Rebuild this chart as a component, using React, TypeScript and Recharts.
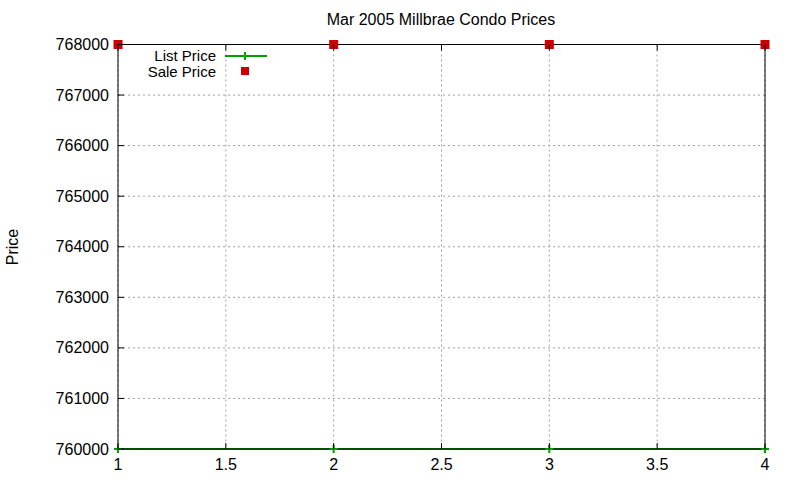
import React from 'react';
import { ComposedChart, Line, Scatter, XAxis, YAxis, CartesianGrid } from 'recharts';

const xValues = [1, 2, 3, 4];
const listPrices = [760000, 760000, 760000, 760000];
const salePrices = [768000, 768000, 768000, 768000];
const xTicks = [1, 1.5, 2, 2.5, 3, 3.5, 4];
const yTicks = [760000, 761000, 762000, 763000, 764000, 765000, 766000, 767000, 768000];
const title = 'Mar 2005 Millbrae Condo Prices';
const yLabel = 'Price';
const listName = 'List Price';
const saleName = 'Sale Price';

const data = xValues.map((x, i) => ({ x, list: listPrices[i], sale: salePrices[i] }));

const FONT = '"Liberation Sans", Arial, sans-serif';
const GREEN = '#00a000';
const RED = '#cc0000';
const FS = 16;
const LFS = 15;

const BottomTick = (p: any) => (
  <g>
    <line x1={p.x} x2={p.x} y1={p.y} y2={p.y - 6} stroke="#000" />
    <text x={p.x} y={p.y + 15} textAnchor="middle" dominantBaseline="central" fontSize={FS} fontFamily={FONT} fill="#000">
      {p.payload.value}
    </text>
  </g>
);
const TopTick = (p: any) => (
  <line x1={p.x} x2={p.x} y1={p.y} y2={p.y + 6} stroke="#000" />
);
const LeftTick = (p: any) => (
  <g>
    <line x1={p.x} x2={p.x + 6} y1={p.y} y2={p.y} stroke="#000" />
    <text x={p.x - 9} y={p.y} textAnchor="end" dominantBaseline="central" fontSize={FS} fontFamily={FONT} fill="#000">
      {p.payload.value}
    </text>
  </g>
);
const RightTick = (p: any) => (
  <line x1={p.x} x2={p.x - 6} y1={p.y} y2={p.y} stroke="#000" />
);

const PlusDot = (p: any) => {
  const { cx, cy } = p;
  if (cx == null || cy == null) return <g />;
  return (
    <g>
      <line x1={cx - 4} x2={cx + 4} y1={cy} y2={cy} stroke={GREEN} strokeWidth={2} />
      <line x1={cx} x2={cx} y1={cy - 4} y2={cy + 4} stroke={GREEN} strokeWidth={2} />
    </g>
  );
};

const SquareShape = (p: any) => {
  const { cx, cy } = p;
  return <rect x={cx - 4.5} y={cy - 4.5} width={9} height={9} fill={RED} />;
};

export default function App() {
  return (
    <div style={{ position: 'absolute', left: 0, top: 0, width: 800, height: 480, background: '#fff' }}>
      <div style={{ position: 'absolute', left: 0, top: 10, width: 882, textAlign: 'center', fontFamily: FONT, fontSize: FS, lineHeight: '20px', color: '#000' }}>
        {title}
      </div>
      <ComposedChart width={800} height={480} data={data} margin={{ top: 0, right: 0, bottom: 0, left: 0 }}>
        <CartesianGrid xAxisId="b" yAxisId="l" stroke="#a0a0a0" strokeDasharray="2 3" />
        <XAxis xAxisId="b" dataKey="x" type="number" domain={[1, 4]} ticks={xTicks} orientation="bottom" height={31}
          tickSize={0} tickMargin={0} tickLine={false} tick={<BottomTick />} axisLine={{ stroke: '#000' }} interval={0} />
        <XAxis xAxisId="t" dataKey="x" type="number" domain={[1, 4]} ticks={xTicks} orientation="top" height={44.5}
          tickSize={0} tickMargin={0} tickLine={false} tick={<TopTick />} axisLine={{ stroke: '#000' }} interval={0} />
        <YAxis yAxisId="l" type="number" domain={[760000, 768000]} ticks={yTicks} width={118} orientation="left"
          tickSize={0} tickMargin={0} tickLine={false} tick={<LeftTick />} axisLine={{ stroke: '#000' }} interval={0}
          label={{ content: () => (
            <text x={12} y={247} transform="rotate(-90 12 247)" textAnchor="middle" dominantBaseline="central" fontSize={FS} fontFamily={FONT} fill="#000">{yLabel}</text>
          ) }} />
        <YAxis yAxisId="r" type="number" domain={[760000, 768000]} ticks={yTicks} width={35} orientation="right"
          tickSize={0} tickMargin={0} tickLine={false} tick={<RightTick />} axisLine={{ stroke: '#000' }} interval={0} />
        <Line xAxisId="b" yAxisId="l" dataKey="list" name={listName} stroke={GREEN} strokeWidth={2}
          dot={<PlusDot />} activeDot={false} isAnimationActive={false} />
        <Scatter xAxisId="b" yAxisId="l" dataKey="sale" name={saleName} fill={RED} shape={<SquareShape />} isAnimationActive={false} />
      </ComposedChart>
      <svg width={200} height={40} style={{ position: 'absolute', left: 100, top: 46, overflow: 'visible' }}>
        <text x={116} y={9.5} textAnchor="end" dominantBaseline="central" fontSize={LFS} fontFamily={FONT} fill="#000">{listName}</text>
        <line x1={125} x2={167} y1={10} y2={10} stroke={GREEN} strokeWidth={2} />
        <line x1={145} x2={145} y1={6} y2={14} stroke={GREEN} strokeWidth={2} />
        <text x={116} y={25.5} textAnchor="end" dominantBaseline="central" fontSize={LFS} fontFamily={FONT} fill="#000">{saleName}</text>
        <rect x={141} y={21} width={8} height={8} fill={RED} />
      </svg>
    </div>
  );
}
